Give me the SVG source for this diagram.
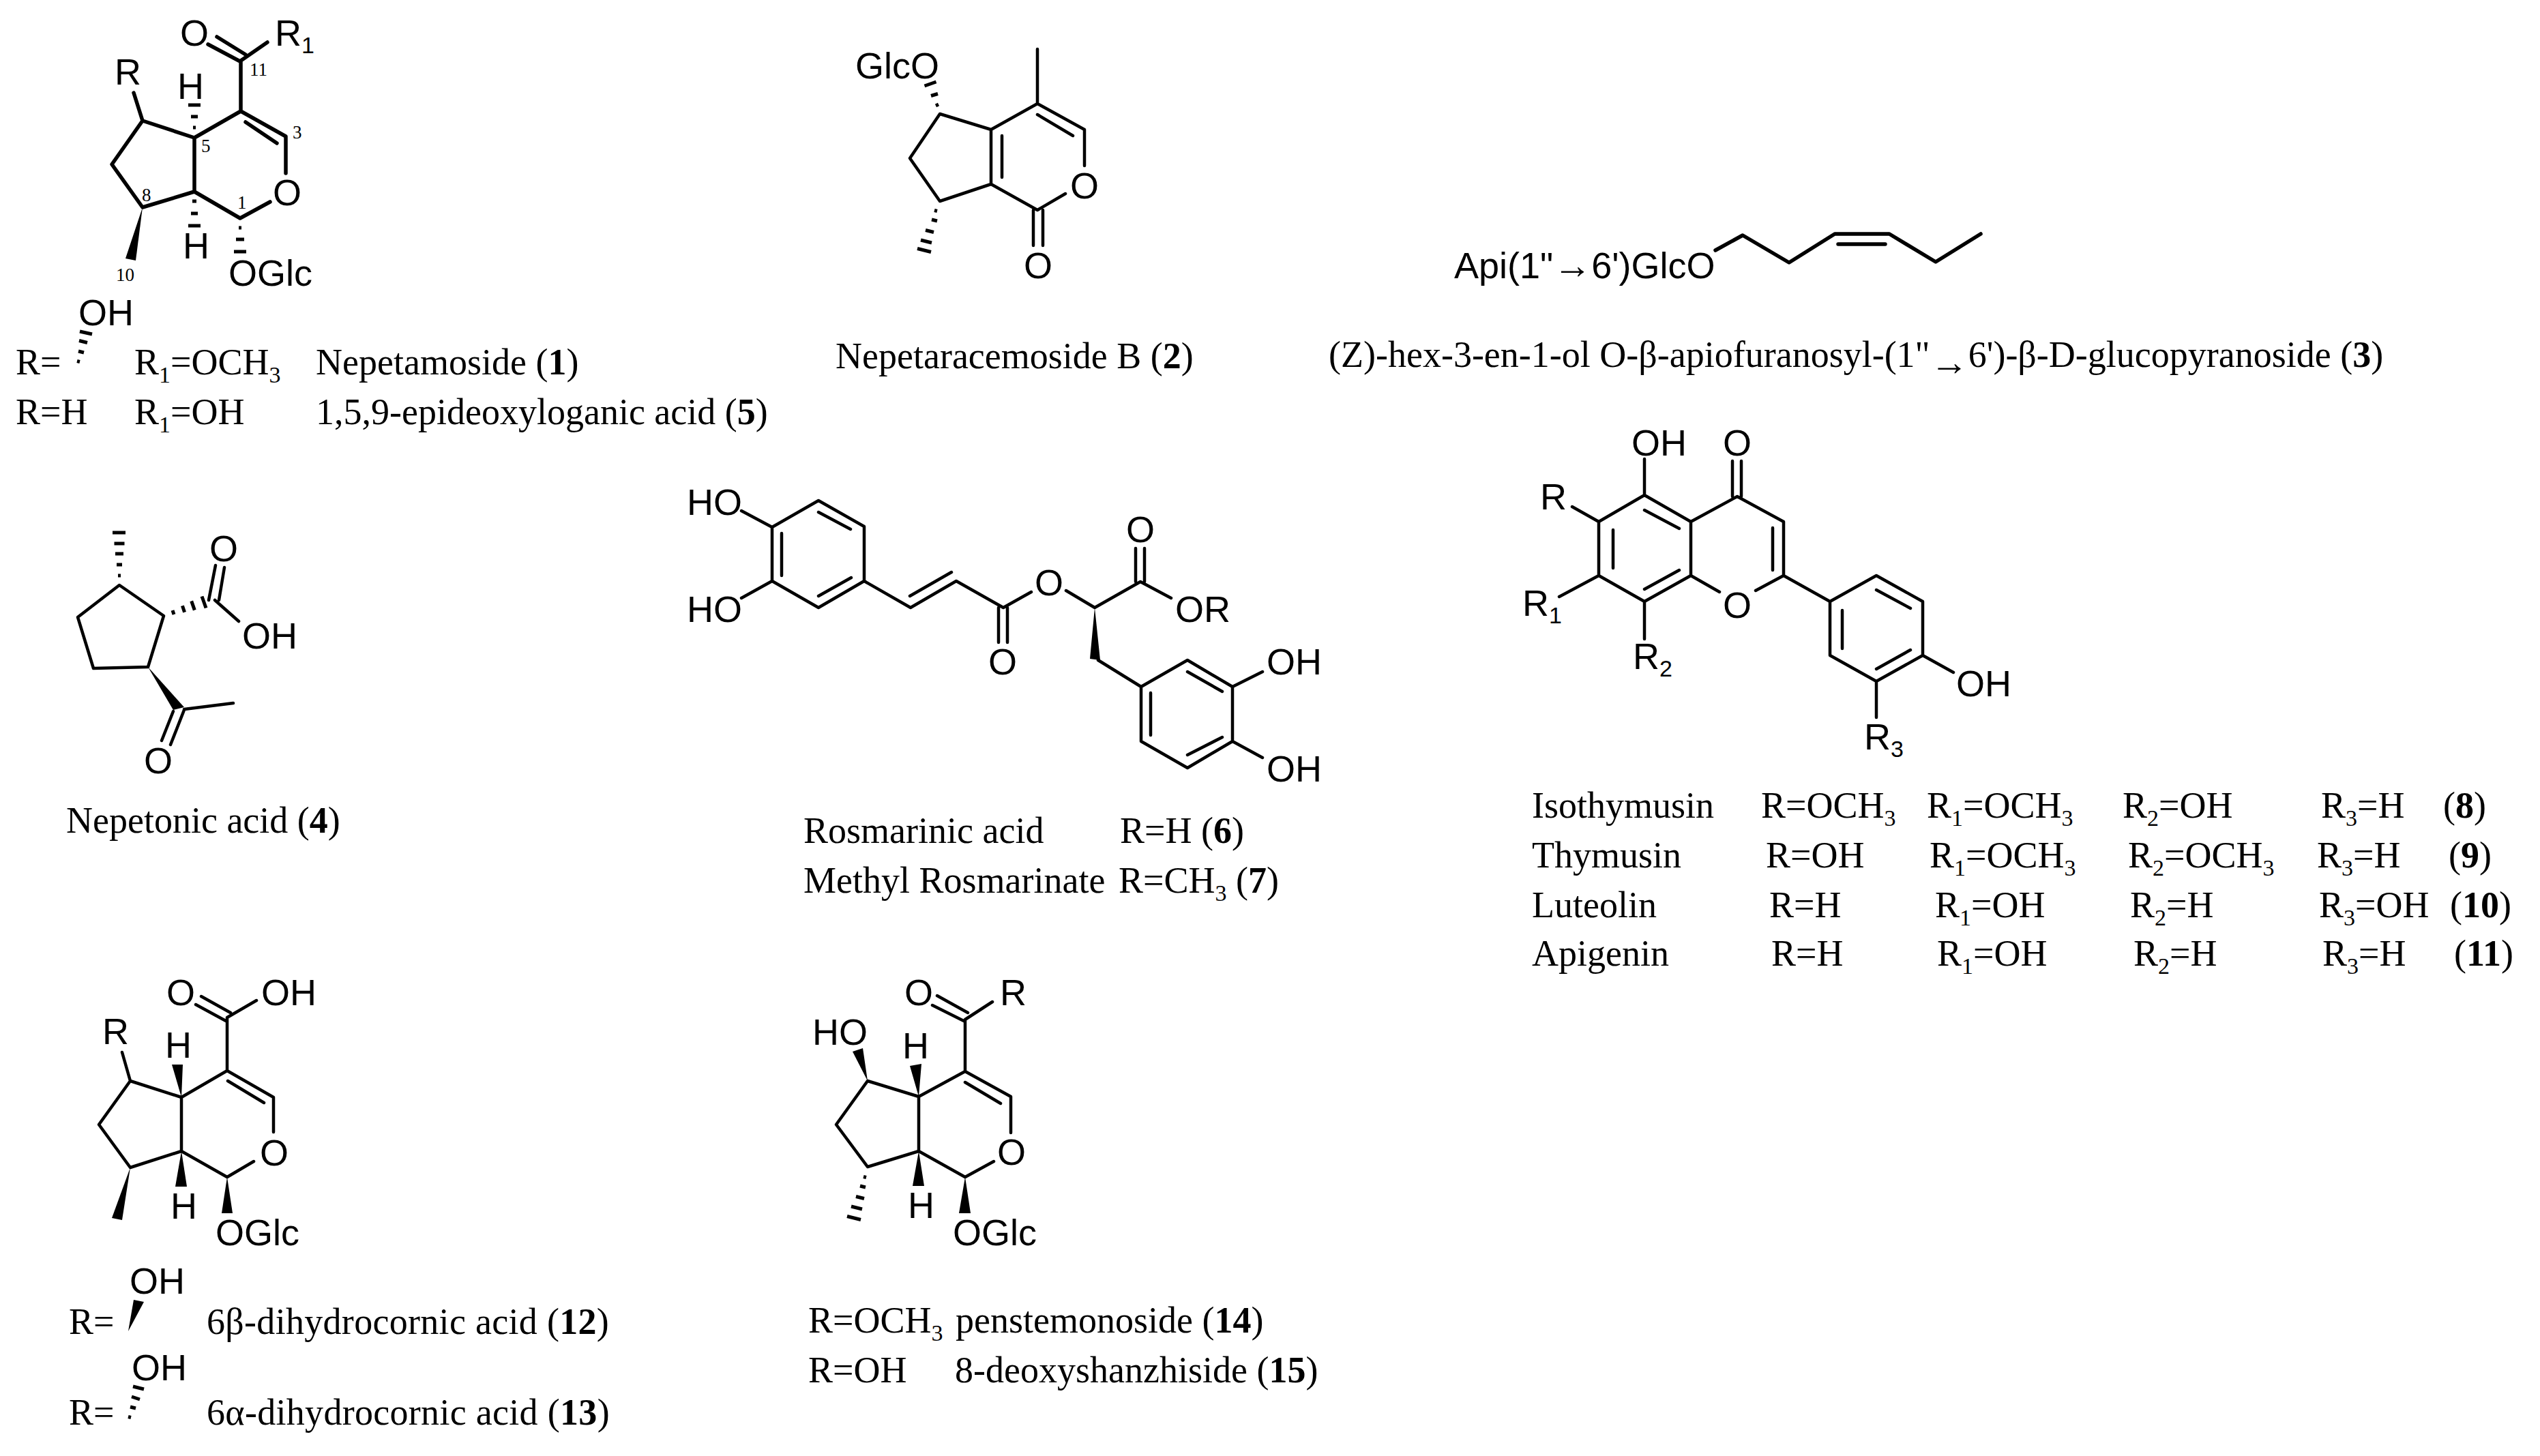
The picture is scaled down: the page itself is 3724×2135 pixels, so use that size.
<svg xmlns="http://www.w3.org/2000/svg" width="3724" height="2135" viewBox="0 0 3724 2135">
<style>
text{fill:#000}
.s{font-family:"Liberation Serif",serif;font-size:54px}
.a{font-family:"Liberation Sans",sans-serif;font-size:54px}
.n{font-family:"Liberation Serif",serif;font-size:27px}
.b{font-weight:bold}
.u{font-size:34px}
.arrow{font-size:56px;font-weight:bold}
.wide{letter-spacing:.3px}
.bond{fill:none;stroke:#000;stroke-width:4.5;stroke-linecap:round;stroke-linejoin:round}
.thick{stroke-width:5.5}
.hash{fill:none;stroke:#000;stroke-width:5;stroke-linecap:butt}
.wedge{fill:#000;stroke:none}
</style>
<rect width="3724" height="2135" fill="#fff"/>
<g id="compound-1-5">
<g id="bonds-1">
<path class="bond thick" d="M392 62L353 89V163L285 202L209 177L164 241L209 304L285 281L352 320L396 296M285 202V281M353 163L419 200V254M360 179L406 210M196 136L209 177M318 54L360 80M305 65L352 90"/>
<path class="hash" d="M283 187H287M280 171H290M276 154H294M282 295H288M280 313H290M276 331H294M350 334H354M346 351H358M343 369H361M113 529.5L117 530.5M115 515L123 517M116 499.5L128 502.5M117 486L135 490"/>
<polygon class="wedge" points="209,304 184,379 199,382"/>
</g>
<text class="a" x="264" y="67">O</text>
<text class="a" x="403" y="67">R<tspan class="u" dy="11">1</tspan></text>
<text class="a" x="168" y="124">R</text>
<text class="a" x="260" y="145">H</text>
<text class="a" x="268" y="379">H</text>
<text class="a" x="400" y="301">O</text>
<text class="a" x="335" y="419">OGlc</text>
<text class="a" x="115" y="477">OH</text>
<text class="n" x="366" y="111">11</text>
<text class="n" x="429" y="203">3</text>
<text class="n" x="295" y="223">5</text>
<text class="n" x="208" y="295">8</text>
<text class="n" x="348" y="306">1</text>
<text class="n" x="170" y="412">10</text>
<text class="s" x="23" y="549">R=</text>
<text class="s" x="197" y="549">R<tspan class="u" dy="12">1</tspan><tspan dy="-12">=OCH</tspan><tspan class="u" dy="12">3</tspan></text>
<text class="s" x="463" y="549">Nepetamoside (<tspan class="b">1</tspan>)</text>
<text class="s" x="23" y="622">R=H</text>
<text class="s" x="197" y="622">R<tspan class="u" dy="12">1</tspan><tspan dy="-12">=OH</tspan></text>
<text class="s" x="463" y="622">1,5,9-epideoxyloganic acid (<tspan class="b">5</tspan>)</text>
</g>
<g id="compound-2">
<g id="bonds-2">
<path class="bond" d="M1521 72V152L1453 190L1378 167L1334 232L1378 295L1453 270L1521 308L1562 284M1453 190V270M1521 152L1590 190V243M1521 168L1573 199M1469 199V260M1515 308V360M1529 308V360"/>
<path class="hash" d="M1372 155L1376 153M1365 140.5L1375 137.5M1355.5 126L1372.5 120M1370 308.5L1374 309.5M1366 322L1374 324M1357 337.5L1369 340.5M1350 352L1366 356M1345 364.5L1365 369.5"/>
</g>
<text class="a" x="1254" y="115">GlcO</text>
<text class="a" x="1569" y="291">O</text>
<text class="a" x="1501" y="408">O</text>
<text class="s" x="1225" y="540">Nepetaracemoside B (<tspan class="b">2</tspan>)</text>
</g>
<g id="compound-3">
<g id="bonds-3">
<path class="bond thick" d="M2515 367L2555 345L2623 385L2690 343H2770L2838 384L2904 343M2695 358H2764"/>
</g>
<text class="a" x="2132" y="408">Api(1"<tspan class="arrow">→</tspan>6')GlcO</text>
<text class="s" x="1948" y="538">(Z)-hex-3-en-1-ol O-β-apiofuranosyl-(1"<tspan class="arrow" dy="12">→</tspan><tspan dy="-12">6')-β-D-glucopyranoside (</tspan><tspan class="b">3</tspan>)</text>
</g>
<g id="compound-4">
<g id="bonds-4">
<path class="bond" d="M175 858L240 903L217 978L137 980L114 905ZM270 1040L342 1031M270 1041L250 1092M254 1043L237 1086M315 880L350 911M306 880L316 829M321 880L329 832"/>
<path class="hash" d="M173 844H177M171 828H179M169 812H181M167.5 797H182.5M165 781H184M253 895L255 901M267.4 888.3L270.6 897.7M280.7 881.4L285.3 894.6M296 874.5L302 891.5"/>
<polygon class="wedge" points="217,978 254,1041 270,1037"/>
</g>
<text class="a" x="307" y="823">O</text>
<text class="a" x="355" y="951">OH</text>
<text class="a" x="211" y="1134">O</text>
<text class="s" x="97" y="1221">Nepetonic acid (<tspan class="b">4</tspan>)</text>
</g>
<g id="compound-6-7">
<g id="bonds-6">
<path class="bond" d="M1200 734L1267 772V852L1200 891L1132 852V773ZM1200 751L1247 776M1200 874L1248 847M1146 782V844M1132 773L1087 749M1132 852L1087 877M1267 852L1335 891L1402 852L1471 891L1512 868M1334 874L1395 839M1464 891V942M1477 891V942M1563 866L1605 891L1672 853L1717 877M1665 853V804M1678 853V804M1610 968L1673 1007M1673 1007L1741 968L1807 1007V1087L1741 1126L1673 1087ZM1741 985L1792 1014M1687 1016V1078M1741 1107L1792 1081M1807 1007L1851 985M1807 1087L1851 1111"/>
<polygon class="wedge" points="1605,891 1598,966 1613,968"/>
</g>
<text class="a" x="1007" y="755">HO</text>
<text class="a" x="1007" y="912">HO</text>
<text class="a" x="1449" y="989">O</text>
<text class="a" x="1517" y="873">O</text>
<text class="a" x="1651" y="795">O</text>
<text class="a" x="1723" y="912">OR</text>
<text class="a" x="1857" y="989">OH</text>
<text class="a" x="1857" y="1146">OH</text>
<text class="s" x="1178" y="1236">Rosmarinic acid</text>
<text class="s" x="1642" y="1236">R=H (<tspan class="b">6</tspan>)</text>
<text class="s" x="1178" y="1309">Methyl Rosmarinate</text>
<text class="s" x="1640" y="1309">R=CH<tspan class="u" dy="12">3</tspan><tspan dy="-12"> (</tspan><tspan class="b">7</tspan>)</text>
</g>
<g id="compound-8-11">
<g id="bonds-8">
<path class="bond" d="M2411 726L2479 765V844L2411 882L2344 844V765ZM2479 765L2547 728L2615 765V844L2574 866M2479 844L2521 868M2411 748L2462 775M2365 777V833M2411 864L2462 836M2599 774V836M2540 728V676M2553 728V676M2411 726V673M2344 765L2305 743M2344 844L2286 875M2411 882V937M2615 844L2683 882L2751 844L2819 882V961L2751 999L2683 961V882M2751 865L2801 892M2701 895V951M2751 981L2801 953M2819 961L2864 986M2751 999V1052"/>
</g>
<text class="a" x="2392" y="668">OH</text>
<text class="a" x="2526" y="668">O</text>
<text class="a" x="2258" y="747">R</text>
<text class="a" x="2526" y="906">O</text>
<text class="a" x="2232" y="903">R<tspan class="u" dy="11">1</tspan></text>
<text class="a" x="2394" y="981">R<tspan class="u" dy="11">2</tspan></text>
<text class="a" x="2868" y="1021">OH</text>
<text class="a" x="2733" y="1099">R<tspan class="u" dy="11">3</tspan></text>
<text class="s" x="2246" y="1199">Isothymusin</text>
<text class="s" x="2582" y="1199">R=OCH<tspan class="u" dy="12">3</tspan></text>
<text class="s" x="2825" y="1199">R<tspan class="u" dy="12">1</tspan><tspan dy="-12">=OCH</tspan><tspan class="u" dy="12">3</tspan></text>
<text class="s" x="3112" y="1199">R<tspan class="u" dy="12">2</tspan><tspan dy="-12">=OH</tspan></text>
<text class="s" x="3403" y="1199">R<tspan class="u" dy="12">3</tspan><tspan dy="-12">=H</tspan></text>
<text class="s" x="3582" y="1199">(<tspan class="b">8</tspan>)</text>
<text class="s" x="2246" y="1272">Thymusin</text>
<text class="s" x="2589" y="1272">R=OH</text>
<text class="s" x="2829" y="1272">R<tspan class="u" dy="12">1</tspan><tspan dy="-12">=OCH</tspan><tspan class="u" dy="12">3</tspan></text>
<text class="s" x="3120" y="1272">R<tspan class="u" dy="12">2</tspan><tspan dy="-12">=OCH</tspan><tspan class="u" dy="12">3</tspan></text>
<text class="s" x="3397" y="1272">R<tspan class="u" dy="12">3</tspan><tspan dy="-12">=H</tspan></text>
<text class="s" x="3590" y="1272">(<tspan class="b">9</tspan>)</text>
<text class="s" x="2246" y="1345">Luteolin</text>
<text class="s" x="2594" y="1345">R=H</text>
<text class="s" x="2837" y="1345">R<tspan class="u" dy="12">1</tspan><tspan dy="-12">=OH</tspan></text>
<text class="s" x="3123" y="1345">R<tspan class="u" dy="12">2</tspan><tspan dy="-12">=H</tspan></text>
<text class="s" x="3400" y="1345">R<tspan class="u" dy="12">3</tspan><tspan dy="-12">=OH</tspan></text>
<text class="s" x="3592" y="1345">(<tspan class="b">10</tspan>)</text>
<text class="s" x="2246" y="1416">Apigenin</text>
<text class="s" x="2597" y="1416">R=H</text>
<text class="s" x="2840" y="1416">R<tspan class="u" dy="12">1</tspan><tspan dy="-12">=OH</tspan></text>
<text class="s" x="3128" y="1416">R<tspan class="u" dy="12">2</tspan><tspan dy="-12">=H</tspan></text>
<text class="s" x="3405" y="1416">R<tspan class="u" dy="12">3</tspan><tspan dy="-12">=H</tspan></text>
<text class="s" x="3598" y="1416">(<tspan class="b">11</tspan>)</text>
</g>
<g id="compound-12-13">
<g id="bonds-12">
<path class="bond" d="M376 1467L333 1492V1570L266 1609L191 1585L145 1649L191 1712L266 1688L333 1726L372 1703M266 1609V1688M333 1570L401 1609V1660M334 1585L387 1617M295 1461L338 1485M287 1473L333 1498M179 1543L191 1585"/>
<path class="hash" d="M188 2077.5L192 2078.5M191 2063L199 2065M193 2048L205 2052M195 2033L211 2037"/>
<polygon class="wedge" points="266,1609 252,1561 268,1561"/>
<polygon class="wedge" points="266,1688 257,1740 274,1740"/>
<polygon class="wedge" points="191,1712 164,1786 179,1789"/>
<polygon class="wedge" points="333,1726 325,1779 341,1779"/>
<polygon class="wedge" points="188,1952 196,1906 211,1909"/>
</g>
<text class="a" x="244" y="1474">O</text>
<text class="a" x="383" y="1474">OH</text>
<text class="a" x="150" y="1531">R</text>
<text class="a" x="242" y="1551">H</text>
<text class="a" x="381" y="1709">O</text>
<text class="a" x="250" y="1787">H</text>
<text class="a" x="316" y="1826">OGlc</text>
<text class="a" x="190" y="1897">OH</text>
<text class="a" x="193" y="2024">OH</text>
<text class="s" x="101" y="1956">R=</text>
<text class="s wide" x="303" y="1956">6β-dihydrocornic acid (<tspan class="b">12</tspan>)</text>
<text class="s" x="101" y="2089">R=</text>
<text class="s wide" x="303" y="2089">6α-dihydrocornic acid (<tspan class="b">13</tspan>)</text>
</g>
<g id="compound-14-15">
<g id="bonds-14">
<path class="bond" d="M1455 1469L1415 1495V1571L1347 1608L1272 1585L1226 1649L1272 1711L1347 1688L1415 1726L1457 1703M1347 1608V1688M1415 1571L1482 1608V1661M1415 1587L1467 1618M1374 1460L1419 1485M1367 1474L1415 1498"/>
<path class="hash" d="M1266 1725.5L1270 1726.5M1261 1739L1269 1741M1255 1754.5L1267 1757.5M1248 1769L1264 1773M1242 1783.5L1262 1788.5"/>
<polygon class="wedge" points="1272,1585 1250,1542 1265,1537"/>
<polygon class="wedge" points="1347,1608 1334,1563 1351,1560"/>
<polygon class="wedge" points="1347,1688 1338,1739 1355,1739"/>
<polygon class="wedge" points="1415,1726 1406,1779 1423,1779"/>
</g>
<text class="a" x="1326" y="1474">O</text>
<text class="a" x="1466" y="1474">R</text>
<text class="a" x="1191" y="1532">HO</text>
<text class="a" x="1323" y="1552">H</text>
<text class="a" x="1462" y="1708">O</text>
<text class="a" x="1331" y="1786">H</text>
<text class="a" x="1397" y="1826">OGlc</text>
<text class="s" x="1185" y="1954">R=OCH<tspan class="u" dy="12">3</tspan></text>
<text class="s" x="1401" y="1954">penstemonoside (<tspan class="b">14</tspan>)</text>
<text class="s" x="1185" y="2027">R=OH</text>
<text class="s" x="1400" y="2027">8-deoxyshanzhiside (<tspan class="b">15</tspan>)</text>
</g>
</svg>
